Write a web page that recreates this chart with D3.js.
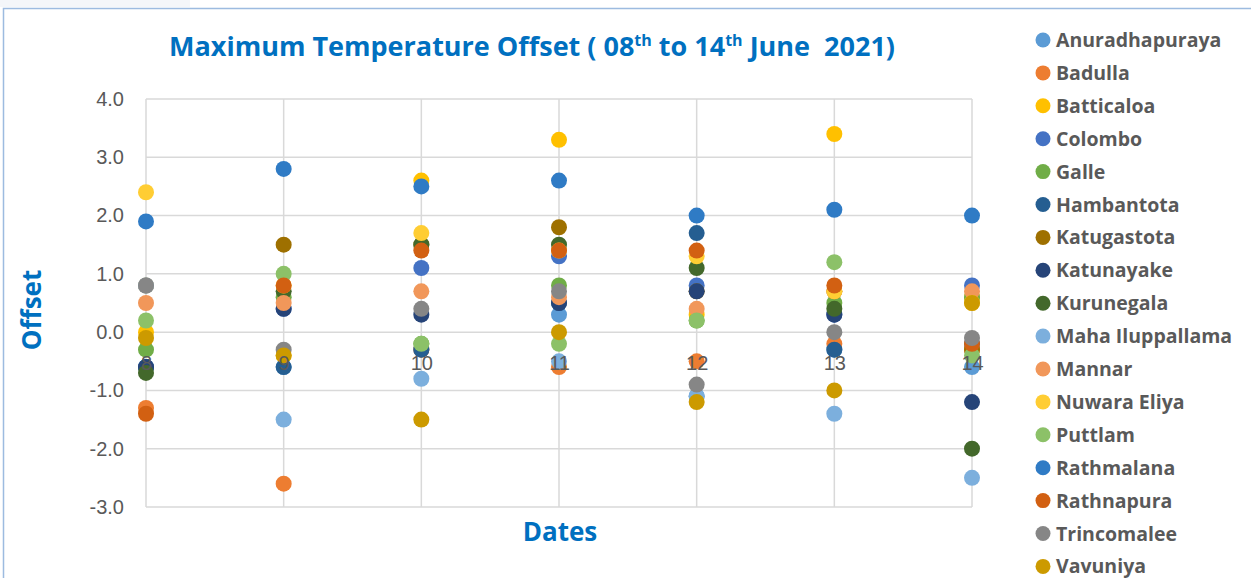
<!DOCTYPE html>
<html>
<head>
<meta charset="utf-8">
<script src="https://cdn.jsdelivr.net/npm/d3@7"></script>
<style>
  body { margin: 0; background: #fff; }
  svg { display: block; }
</style>
</head>
<body>
<svg id="chart"></svg>
<script>
const dates = [8, 9, 10, 11, 12, 13, 14];
const yTicks = [-3, -2, -1, 0, 1, 2, 3, 4];

const stations = ["Anuradhapuraya", "Badulla", "Batticaloa", "Colombo", "Galle", "Hambantota",
  "Katugastota", "Katunayake", "Kurunegala", "Maha Iluppallama", "Mannar", "Nuwara Eliya",
  "Puttlam", "Rathmalana", "Rathnapura", "Trincomalee", "Vavuniya"];

const stationColors = ["#5B9BD5", "#ED7D31", "#FFC000", "#4472C4", "#70AD47", "#255E91",
  "#9E7000", "#264478", "#43682B", "#7CAFDD", "#F1975A", "#FFCD33",
  "#8CC168", "#2F7BC5", "#D26012", "#868686", "#CC9A00"];

// offsets for 08..14 June, one row per station
const anuradhapuraya  = [-0.6, -0.6, -0.3, 0.3, -1.1, -0.3, -0.6];
const badulla         = [-1.3, -2.6, -0.3, -0.6, -0.5, -0.2, -0.3];
const batticaloa      = [0.0, -0.4, 2.6, 3.3, 0.3, 3.4, 0.6];
const colombo         = [-0.6, 0.4, 1.1, 1.3, 0.8, 0.3, 0.8];
const galle           = [-0.3, 0.6, -0.2, 0.8, 0.2, 0.5, 0.6];
const hambantota      = [-0.6, -0.6, -0.3, 0.5, 1.7, -0.3, -0.2];
const katugastota     = [0.8, 1.5, 1.5, 1.8, 0.7, 0.7, -0.3];
const katunayake      = [-0.6, 0.4, 0.3, 0.5, 0.7, 0.3, -1.2];
const kurunegala      = [-0.7, 0.7, 1.5, 1.5, 1.1, 0.4, -2.0];
const mahaIluppallama = [0.8, -1.5, -0.8, -0.5, -1.1, -1.4, -2.5];
const mannar          = [0.5, 0.5, 0.7, 0.6, 0.4, 0.7, 0.7];
const nuwaraEliya     = [2.4, 0.8, 1.7, 1.4, 1.3, 0.7, 0.5];
const puttlam         = [0.2, 1.0, -0.2, -0.2, 0.2, 1.2, -0.4];
const rathmalana      = [1.9, 2.8, 2.5, 2.6, 2.0, 2.1, 2.0];
const rathnapura      = [-1.4, 0.8, 1.4, 1.4, 1.4, 0.8, -0.2];
const trincomalee     = [0.8, -0.3, 0.4, 0.7, -0.9, 0.0, -0.1];
const vavuniya        = [-0.1, -0.4, -1.5, 0.0, -1.2, -1.0, 0.5];

const offsets = [anuradhapuraya, badulla, batticaloa, colombo, galle, hambantota,
  katugastota, katunayake, kurunegala, mahaIluppallama, mannar, nuwaraEliya,
  puttlam, rathmalana, rathnapura, trincomalee, vavuniya];

const W = 1251, H = 578;
const svg = d3.select("#chart").attr("width", W).attr("height", H);

// chart frame
svg.append("rect").attr("x", 0).attr("y", 0).attr("width", 190).attr("height", 7).attr("fill", "#F4F6F9");
svg.append("path").attr("d", `M3.5,${H} V8.5 H${W}`).attr("fill", "none").attr("stroke", "#9DBBE0").attr("stroke-width", 1.5);

const x = d3.scaleLinear().domain([8, 14]).range([146, 972]);
const y = d3.scaleLinear().domain([-3, 4]).range([507, 99]);

const tickFont = "'Liberation Sans', Arial, sans-serif";
const boldFont = "'Open Sans', 'DejaVu Sans', Arial, sans-serif";

// gridlines
const grid = svg.append("g");
grid.selectAll(".hg").data(yTicks).enter().append("line")
  .attr("x1", x(8)).attr("x2", x(14))
  .attr("y1", d => y(d)).attr("y2", d => y(d))
  .attr("stroke", "#D9D9D9").attr("stroke-width", 1.5);
grid.selectAll(".vg").data(dates).enter().append("line")
  .attr("x1", d => x(d)).attr("x2", d => x(d))
  .attr("y1", y(4)).attr("y2", y(-3))
  .attr("stroke", "#D9D9D9").attr("stroke-width", 1.5);

// y axis labels (plain hyphen for negatives, as in the original)
const yAxis = svg.append("g").attr("transform", "translate(124,0)")
  .call(d3.axisLeft(y).tickValues(yTicks).tickFormat(d => d.toFixed(1)).tickSize(0).tickPadding(0));
yAxis.select(".domain").remove();
yAxis.selectAll("text").attr("font-family", tickFont).attr("font-size", 20).attr("fill", "#595959");

// points
const series = svg.append("g");
stations.forEach((name, i) => {
  series.append("g").selectAll("circle")
    .data(offsets[i].map((v, j) => ({ date: dates[j], value: v })))
    .enter().append("circle")
    .attr("cx", d => x(d.date))
    .attr("cy", d => y(d.value))
    .attr("r", 8)
    .attr("fill", stationColors[i]);
});

// x axis labels sit just below the zero line
const xAxis = svg.append("g").attr("transform", `translate(0,${y(0) + 38})`)
  .call(d3.axisBottom(x).tickValues(dates).tickFormat(d3.format("d")).tickSize(0).tickPadding(0));
xAxis.select(".domain").remove();
xAxis.selectAll("text").attr("font-family", tickFont).attr("font-size", 20).attr("fill", "#595959").attr("dy", 0);

// titles
const title = svg.append("text")
  .attr("x", 532).attr("y", 56)
  .attr("text-anchor", "middle")
  .attr("font-family", boldFont).attr("font-weight", "bold")
  .attr("font-size", 27).attr("fill", "#0070C0");
const titleParts = [["Maximum Temperature Offset ( 08", false], ["th", true], [" to 14", false], ["th", true], [" June  2021)", false]];
titleParts.forEach(([t, sup], k) => {
  const ts = title.append("tspan").text(t).style("white-space", "pre");
  if (sup) ts.attr("font-size", 16).attr("dy", -10);
  else if (k > 0) ts.attr("dy", 10);
});

svg.append("text")
  .attr("transform", "translate(41,310) rotate(-90)")
  .attr("text-anchor", "middle")
  .attr("font-family", boldFont).attr("font-weight", "bold")
  .attr("font-size", 26).attr("fill", "#0070C0")
  .text("Offset");

svg.append("text")
  .attr("x", 560).attr("y", 541)
  .attr("text-anchor", "middle")
  .attr("font-family", boldFont).attr("font-weight", "bold")
  .attr("font-size", 26).attr("fill", "#0070C0")
  .text("Dates");

// legend
const legend = svg.append("g").attr("transform", "translate(1043,40)");
const item = legend.selectAll("g").data(stations).enter().append("g")
  .attr("transform", (d, i) => `translate(0,${i * 32.9})`);
item.append("circle").attr("r", 7.5).attr("fill", (d, i) => stationColors[i]);
item.append("text")
  .attr("x", 13).attr("y", 7)
  .attr("font-family", boldFont).attr("font-weight", "bold")
  .attr("font-size", 19.5).attr("fill", "#595959")
  .text(d => d);
</script>
</body>
</html>
